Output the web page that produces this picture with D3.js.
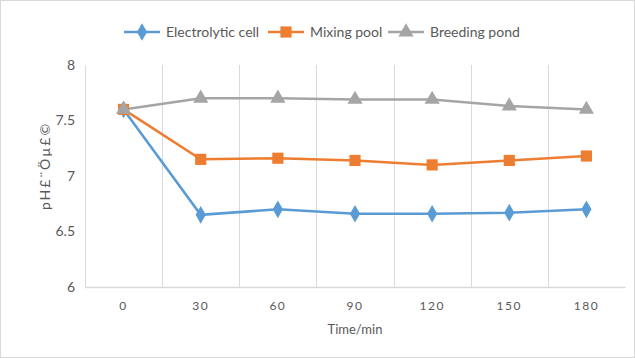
<!DOCTYPE html>
<html>
<head>
<meta charset="utf-8">
<script src="https://cdn.jsdelivr.net/npm/d3@7"></script>
<style>
body { margin: 0; background: #fff; }
text { font-family: Lato, "Open Sans", sans-serif; }
</style>
</head>
<body>
<script>
var W = 635, H = 358;
var margin = { top: 65, right: 10, bottom: 71, left: 85 };
var w = 625 - margin.left;
var h = 287 - margin.top;

var times = ["0", "30", "60", "90", "120", "150", "180"];
var electrolytic = [7.6, 6.65, 6.70, 6.66, 6.66, 6.67, 6.70];
var mixing = [7.6, 7.15, 7.16, 7.14, 7.10, 7.14, 7.18];
var breeding = [7.6, 7.70, 7.70, 7.69, 7.69, 7.63, 7.60];
var yTicks = [6, 6.5, 7, 7.5, 8];

var series = [
    { name: "Electrolytic cell", values: electrolytic, color: "#5b9bd5", shape: "diamond" },
    { name: "Mixing pool", values: mixing, color: "#ed7d31", shape: "square" },
    { name: "Breeding pond", values: breeding, color: "#a5a5a5", shape: "triangle" }
];

var svg = d3.select("body").append("svg")
    .attr("width", W)
    .attr("height", H);

// outer border
svg.append("rect")
    .attr("x", 0.5).attr("y", 0.5)
    .attr("width", W - 1).attr("height", H - 1)
    .attr("fill", "#fff")
    .attr("stroke", "#d9d9d9");

var g = svg.append("g")
    .attr("transform", "translate(" + margin.left + "," + margin.top + ")");

var xScale = d3.scaleBand().domain(times).range([0, w]);
var yScale = d3.scaleLinear().domain([6, 8]).range([h, 0]);

// vertical gridlines between categories
g.selectAll(".vgrid")
    .data(times.slice(1))
    .enter().append("line")
    .attr("x1", function (d) { return Math.round(xScale(d)) + 0.5; })
    .attr("x2", function (d) { return Math.round(xScale(d)) + 0.5; })
    .attr("y1", 0).attr("y2", h)
    .attr("stroke", "#d9d9d9");

// axes
var yAxis = d3.axisLeft(yScale).tickValues(yTicks).tickSize(0).tickPadding(10)
    .tickFormat(function (d) { return d; });
var yG = g.append("g").call(yAxis);
yG.select(".domain").attr("stroke", "#d9d9d9");
yG.selectAll("text").attr("fill", "#595959").style("font-size", "14px");

var xAxis = d3.axisBottom(xScale).tickSize(0).tickPadding(14);
var xG = g.append("g").attr("transform", "translate(0," + h + ")").call(xAxis);
xG.select(".domain").attr("stroke", "#d9d9d9").attr("stroke-width", 1.5);
xG.selectAll("text").attr("fill", "#595959").style("font-size", "12px").style("letter-spacing", "1.5px");

// lines
var line = d3.line()
    .x(function (d, i) { return xScale(times[i]) + xScale.bandwidth() / 2; })
    .y(function (d) { return yScale(d); });

var symbols = { diamond: d3.symbolDiamond, square: d3.symbolSquare, triangle: d3.symbolTriangle };
var sizes = { diamond: 90, square: 125, triangle: 100 };

series.forEach(function (s) {
    g.append("path")
        .datum(s.values)
        .attr("fill", "none")
        .attr("stroke", s.color)
        .attr("stroke-width", 2.5)
        .attr("d", line);
});

series.forEach(function (s) {
    g.selectAll(".pt-" + s.shape)
        .data(s.values)
        .enter().append("path")
        .attr("transform", function (d, i) {
            return "translate(" + (xScale(times[i]) + xScale.bandwidth() / 2) + "," + yScale(d) + ")";
        })
        .attr("d", d3.symbol().type(symbols[s.shape]).size(sizes[s.shape]))
        .attr("fill", s.color);
});

// axis titles
svg.append("text")
    .attr("x", 355).attr("y", 334)
    .attr("text-anchor", "middle")
    .attr("fill", "#595959")
    .style("font-size", "13px")
    .text("Time/min");

svg.append("text")
    .attr("transform", "translate(50,166) rotate(-90)")
    .attr("text-anchor", "middle")
    .attr("fill", "#595959")
    .style("font-size", "14px")
    .style("letter-spacing", "2px")
    .text("pH£¨Öµ£©");

// legend
var legendX = [124, 268, 388];
var legend = svg.selectAll(".legend")
    .data(series)
    .enter().append("g")
    .attr("transform", function (d, i) { return "translate(" + legendX[i] + ",32)"; });

legend.append("line")
    .attr("x1", 0).attr("x2", 36)
    .attr("stroke", function (d) { return d.color; })
    .attr("stroke-width", 2.5);
legend.append("path")
    .attr("transform", "translate(18,0)")
    .attr("d", function (d) { return d3.symbol().type(symbols[d.shape]).size(sizes[d.shape])(); })
    .attr("fill", function (d) { return d.color; });
legend.append("text")
    .attr("x", 42).attr("y", 5)
    .attr("fill", "#595959")
    .style("font-size", "14px")
    .text(function (d) { return d.name; });
</script>
</body>
</html>
